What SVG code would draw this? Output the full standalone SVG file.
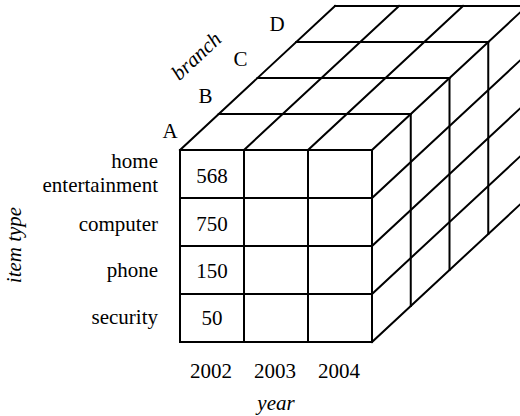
<svg xmlns="http://www.w3.org/2000/svg" width="520" height="416" viewBox="0 0 520 416">
<style>
.ln{fill:none;stroke:#000;stroke-width:2;stroke-linejoin:miter;stroke-linecap:square}
.t{font-size:21px;fill:#000}
.i{font-style:italic}
.m{text-anchor:middle}
.e{text-anchor:end}
</style>
<rect width="520" height="416" fill="#fff"/>
<g id="cube" class="ln">
<g id="front-face">
<rect x="180" y="150" width="192" height="192"/>
<path d="M244 150V342M308 150V342M180 198H372M180 246H372M180 294H372"/>
</g>
<g id="top-face">
<path d="M180 150L335 6M244 150L399 6M308 150L463 6M372 150L527 6"/>
<path d="M218.75 114H410.75M257.5 78H449.5M296.25 42H488.25M335 6H527"/>
</g>
<g id="side-face">
<path d="M410.75 114V306M449.5 78V270M488.25 42V234"/>
<path d="M372 198L527 54M372 246L527 102M372 294L527 150M372 342L527 198"/>
</g>
</g>
<g font-family="'Liberation Serif', 'Times New Roman', 'DejaVu Serif', serif">
<g id="cells" class="t m">
<g id="cell-568"><text x="212" y="183">568</text></g>
<g id="cell-750"><text x="212" y="231">750</text></g>
<g id="cell-150"><text x="212" y="278">150</text></g>
<g id="cell-50"><text x="212" y="325">50</text></g>
</g>
<g id="item-labels" class="t e">
<text x="158" y="168">home</text>
<text x="158" y="192">entertainment</text>
<text x="158" y="231">computer</text>
<text x="158" y="277">phone</text>
<text x="158" y="324">security</text>
</g>
<g id="year-labels" class="t m">
<text x="211" y="378">2002</text>
<text x="275" y="378">2003</text>
<text x="339" y="378">2004</text>
</g>
<g id="branch-labels" class="t m">
<text x="170" y="138">A</text>
<text x="205.5" y="103">B</text>
<text x="240.5" y="66">C</text>
<text x="277" y="31">D</text>
</g>
<g id="axis-titles" class="t i m">
<text x="276" y="410">year</text>
<text transform="translate(21 245) rotate(-90)">item type</text>
<text transform="translate(201 61) rotate(-43)">branch</text>
</g>
</g>
</svg>
